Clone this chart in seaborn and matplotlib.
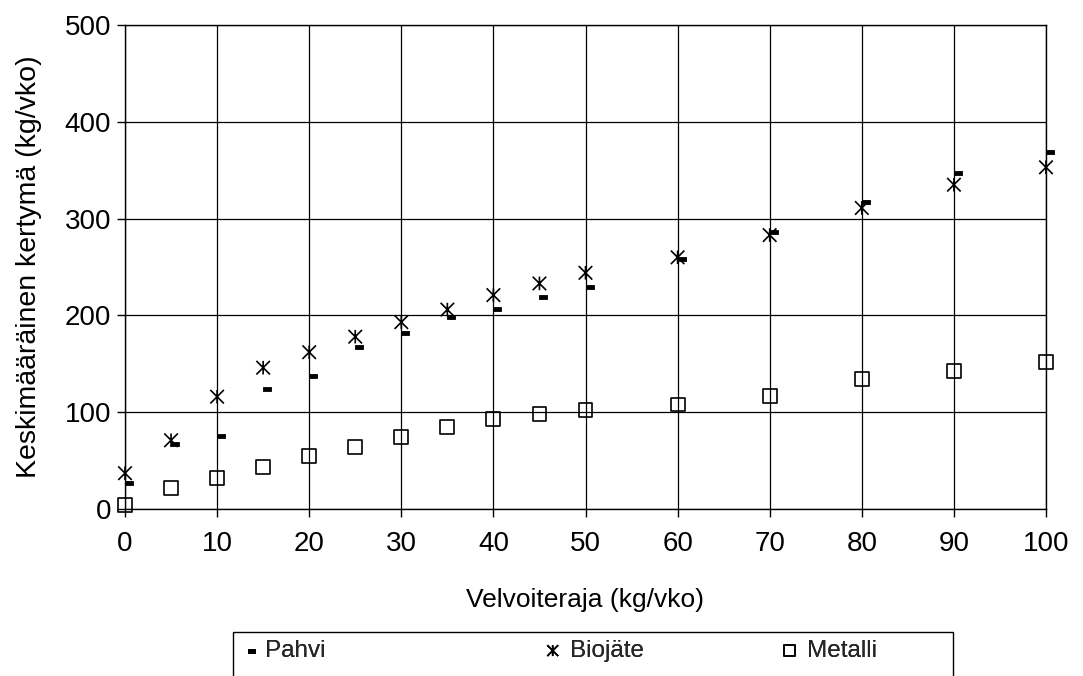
import numpy as np
import pandas as pd
import matplotlib
matplotlib.use('Agg')
import matplotlib.pyplot as plt
from matplotlib.path import Path
from matplotlib.markers import MarkerStyle
import seaborn as sns

# values
velvoiteraja = [0, 5, 10, 15, 20, 25, 30, 35, 40, 45, 50, 60, 70, 80, 90, 100]
pahvi = [27, 67, 75, 124, 137, 167, 182, 198, 207, 219, 229, 258, 286, 317, 347, 369]
biojate = [37, 71, 116, 146, 162, 178, 193, 206, 221, 233, 244, 260, 283, 311, 335, 353]
metalli = [4, 22, 32, 43, 55, 64, 74, 85, 93, 98, 102, 108, 117, 134, 143, 152]

sns.set_theme(style='white')
plt.rcParams['font.family'] = ['Liberation Sans', 'DejaVu Sans']

# excel-ish markers: short dash sitting right of the point, and an x with a vertical bar
dash = MarkerStyle(Path([(0.05, -0.25), (1, -0.25), (1, 0.25), (0.05, 0.25), (0.05, -0.25)],
                        [Path.MOVETO, Path.LINETO, Path.LINETO, Path.LINETO, Path.CLOSEPOLY]))
star = MarkerStyle(Path([(-1, -1), (1, 1), (-1, 1), (1, -1), (0, -1), (0, 1)],
                        [Path.MOVETO, Path.LINETO, Path.MOVETO, Path.LINETO, Path.MOVETO, Path.LINETO]))

fig = plt.figure(figsize=(10.83, 6.76), dpi=100)
ax = fig.add_axes([125 / 1083, 1 - 509 / 676, 921 / 1083, 484 / 676])

sns.scatterplot(x=velvoiteraja, y=pahvi, marker=dash, s=140, facecolor='black',
                edgecolor='black', linewidth=0.6, label='Pahvi', ax=ax, zorder=3, clip_on=False)
sns.scatterplot(x=velvoiteraja, y=biojate, marker=star, s=95, facecolor='none',
                edgecolor='black', linewidth=1.2, label='Biojäte', ax=ax, zorder=3, clip_on=False)
sns.scatterplot(x=velvoiteraja, y=metalli, marker='s', s=100, facecolor='none',
                edgecolor='black', linewidth=1.2, label='Metalli', ax=ax, zorder=3, clip_on=False)

ax.set_xlim(0, 100)
ax.set_ylim(0, 500)
ax.set_xticks(np.arange(0, 101, 10))
ax.set_yticks(np.arange(0, 501, 100))
ax.grid(True, color='black', linewidth=0.9)
ax.set_axisbelow(True)
for sp in ax.spines.values():
    sp.set_color('black')
    sp.set_linewidth(1.0)
ax.tick_params(axis='both', direction='out', length=6, width=1, color='black',
               labelsize=20, labelcolor='black', bottom=True, left=True)
ax.tick_params(axis='x', pad=10)
ax.tick_params(axis='y', pad=4)

ax.set_xlabel('Velvoiteraja (kg/vko)', fontsize=19, color='black', labelpad=22)
ax.set_ylabel('Keskimääräinen kertymä (kg/vko)', fontsize=20.5, color='black', labelpad=16)

handles, labels = ax.get_legend_handles_labels()
ax.get_legend().remove()

# legend box runs off the bottom edge like in the original
fig.add_artist(plt.Rectangle((233 / 1083, 1 - 700 / 676), 720 / 1083, 68 / 676,
                             transform=fig.transFigure, fill=False, ec='black', lw=1.0))
leg_x = [238, 543, 780]
for h, lab, lx in zip(handles, labels, leg_x):
    lg = fig.legend([h], [lab], loc='center left', bbox_to_anchor=(lx / 1083, 1 - 651 / 676),
                    fontsize=17.5, frameon=False, borderpad=0, borderaxespad=0,
                    handlelength=0.8, handletextpad=0.3, markerscale=0.8)
    fig.add_artist(lg)

fig.savefig('out.png', dpi=100)
